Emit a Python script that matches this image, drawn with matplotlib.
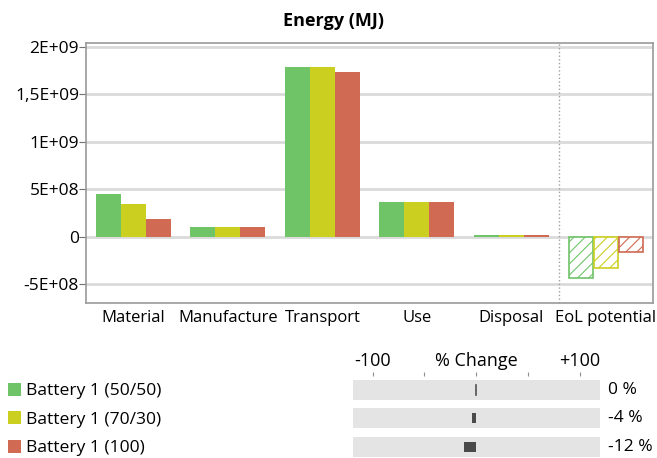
import numpy as np
import matplotlib.pyplot as plt
from matplotlib.patches import Patch

plt.rcParams['font.family'] = ['Open Sans', 'DejaVu Sans']
plt.rcParams['hatch.linewidth'] = 0.8

categories = ['Material', 'Manufacture', 'Transport', 'Use', 'Disposal', 'EoL potential']
series = ['Battery 1 (50/50)', 'Battery 1 (70/30)', 'Battery 1 (100)']
b5050 = [4.55e8, 1.05e8, 1.79e9, 3.7e8, 2.0e7, -4.3e8]
b7030 = [3.5e8, 1.05e8, 1.79e9, 3.7e8, 2.0e7, -3.3e8]
b100 = [1.9e8, 1.05e8, 1.73e9, 3.7e8, 2.0e7, -1.6e8]
pct_change = [0, -4, -12]
ytick_vals = [-5e8, 0, 5e8, 1e9, 1.5e9, 2e9]
ytick_labels = ['-5E+08', '0', '5E+08', '1E+09', '1,5E+09', '2E+09']

colors = ['#70c468', '#cbcf20', '#d06a52']

fig = plt.figure(figsize=(6.57, 4.58), dpi=100)
ax = fig.add_axes([0.131, 0.338, 0.863, 0.568])

x = np.arange(len(categories))
w = 0.265
for i, (vals, c) in enumerate(zip([b5050, b7030, b100], colors)):
    pos = x + (i - 1) * w
    # normal bars for the first five stages
    ax.bar(pos[:5], vals[:5], width=w, color=c, zorder=3)
    # EoL potential is hatched
    ax.bar(pos[5:], vals[5:], width=w * 0.95, facecolor='white', edgecolor=c,
           hatch='///', linewidth=1.2, zorder=3)

ax.axvline(4.5, color='#a0a0a0', linestyle=':', linewidth=1, zorder=2)
ax.set_xlim(-0.5, 5.5)
ax.set_ylim(-7.0e8, 2.04e9)
ax.set_yticks(ytick_vals)
ax.set_yticklabels(ytick_labels)
ax.set_xticks(x)
ax.set_xticklabels(categories)
ax.tick_params(axis='x', length=0, labelsize=12, pad=5)
ax.tick_params(axis='y', length=5, color='#707070', labelsize=12.5, pad=0)
ax.grid(axis='y', color='#dadada', linewidth=2, zorder=1)
for s in ax.spines.values():
    s.set_color('#9a9a9a')
    s.set_linewidth(1.2)
fig.text(0.507, 0.955, 'Energy (MJ)', ha='center', va='center',
         fontsize=13, fontweight='bold')

# legend
handles = [Patch(facecolor=c, edgecolor='none') for c in colors]
fig.legend(handles, series, loc='upper left', bbox_to_anchor=(0.012, 0.164),
           frameon=False, fontsize=12.6, handlelength=0.75, handleheight=0.75,
           handletextpad=0.3, labelspacing=0.68, borderaxespad=0, borderpad=0)

# % change panel
ax2 = fig.add_axes([0.537, 0.0, 0.376, 0.18])
rows = np.arange(len(pct_change))
ax2.barh(rows, [238] * 3, left=-119, height=0.7, color='#e4e4e4', zorder=1)
for r, v in zip(rows, pct_change):
    if v == 0:
        ax2.plot([0, 0], [r - 0.18, r + 0.18], color='#505050', linewidth=1.2, zorder=3)
    else:
        ax2.barh(r, v, height=0.36, color='#4a4a4a', zorder=3)
    ax2.text(127, r, f'{v} %', va='center', ha='left', fontsize=12.5)
ax2.set_xlim(-119, 119)
ax2.set_ylim(2.4, -0.5)
ax2.set_yticks([])
ax2.set_xticks([-100, -50, 0, 50, 100])
ax2.set_xticklabels(['-100', '', '% Change', '', '+100'])
ax2.xaxis.tick_top()
ax2.tick_params(axis='x', length=3, color='#909090', labelsize=13, pad=1)
for s in ax2.spines.values():
    s.set_visible(False)

fig.savefig('out.png', dpi=100)
